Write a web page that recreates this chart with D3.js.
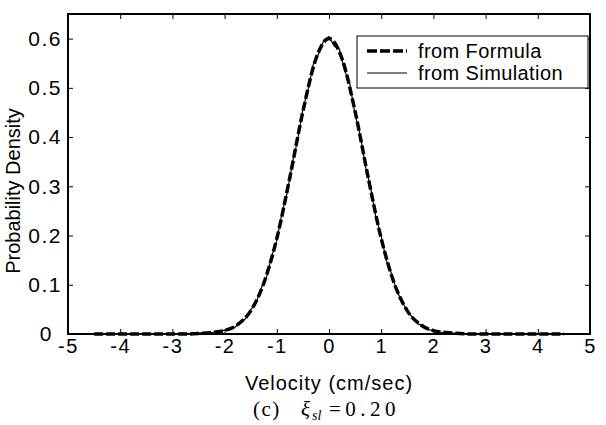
<!DOCTYPE html>
<html><head><meta charset="utf-8">
<script src="https://cdn.jsdelivr.net/npm/d3@7"></script>
<style>
body{margin:0;background:#fff;}
text{font-family:"Liberation Sans",Arial,sans-serif;fill:#000;}
</style></head>
<body><svg id="c" width="606" height="425"></svg>
<script>
// ---- data ----
const xTicks = [-5,-4,-3,-2,-1,0,1,2,3,4,5];
const yTicks = [0,0.1,0.2,0.3,0.4,0.5,0.6];
const yTickLabels = ["0","0.1","0.2","0.3","0.4","0.5","0.6"];
const formulaX = [-4.5,-4.25,-4,-3.75,-3.5,-3.25,-3,-2.75,-2.5,-2.25,-2,-1.75,-1.5,-1.25,-1,-0.75,-0.5,-0.25,0,0.25,0.5,0.75,1,1.25,1.5,1.75,2,2.25,2.5,2.75,3,3.25,3.5,3.75,4,4.25,4.5];
const formulaY = [0,0,0,0,0,0,0,0,0.001,0.003,0.007,0.019,0.047,0.103,0.194,0.318,0.452,0.559,0.600,0.559,0.452,0.318,0.194,0.103,0.047,0.019,0.007,0.003,0.001,0,0,0,0,0,0,0,0];
const simX = d3.range(91).map(i => +(-4.5 + i*0.1).toFixed(1));
const simY = [0,0.001,0,0.001,0,0,0.001,0,0,0.001,0,0.001,0,0.001,0.001,0,0.001,0.002,0.001,0.002,
  0.002,0.003,0.002,0.004,0.006,0.008,0.012,0.014,0.024,0.031,0.049,0.062,0.093,0.114,0.157,0.190,0.246,0.287,0.349,0.394,0.457,0.497,0.548,0.569,0.597,
  0.604,0.585,0.578,0.536,0.507,0.446,0.404,0.340,0.296,0.236,0.199,0.149,0.122,0.086,0.067,0.045,0.034,0.021,0.016,0.009,0.007,0.004,0.003,0.001,0.002,0.001,
  0.001,0,0.001,0,0.001,0,0,0.001,0,0.001,0,0,0.001,0,0.001,0,0,0.001,0,0];
const legendLabels = ["from Formula","from Simulation"];
const xLabel = "Velocity (cm/sec)";
const yLabel = "Probability Density";

// ---- layout ----
const L = 68, R = 590, T = 14, B = 334;
const svg = d3.select("#c");
const x = d3.scaleLinear().domain([-5,5]).range([L,R]);
const y = d3.scaleLinear().domain([0,0.65]).range([B,T]);

// frame
svg.append("rect").attr("x",L).attr("y",T).attr("width",R-L).attr("height",B-T)
  .attr("fill","none").attr("stroke","#000").attr("stroke-width",2);

// axes with inward ticks
const ax = svg.append("g").attr("transform",`translate(0,${B})`)
  .call(d3.axisBottom(x).tickValues(xTicks).tickSizeInner(-5).tickSizeOuter(0).tickPadding(5).tickFormat(d3.format("d")));
const axT = svg.append("g").attr("transform",`translate(0,${T})`)
  .call(d3.axisTop(x).tickValues(xTicks).tickSizeInner(-5).tickSizeOuter(0).tickFormat(""));
const ay = svg.append("g").attr("transform",`translate(${L},0)`)
  .call(d3.axisLeft(y).tickValues(yTicks).tickSizeInner(-5).tickSizeOuter(0).tickPadding(6).tickFormat((d,i)=>yTickLabels[i]));
const ayR = svg.append("g").attr("transform",`translate(${R},0)`)
  .call(d3.axisRight(y).tickValues(yTicks).tickSizeInner(-5).tickSizeOuter(0).tickFormat(""));
[ax,axT,ay,ayR].forEach(g=>{
  g.select(".domain").remove();
  g.selectAll("line").attr("stroke","#000").attr("stroke-width",1);
  g.selectAll("text").attr("font-size",20).attr("font-family","Liberation Sans, Arial, sans-serif")
    .attr("fill","#111").attr("letter-spacing",1.5);
});
ax.selectAll("text").text(d => d<0 ? "-"+Math.abs(d) : d);
ay.selectAll("text").attr("font-size",21).attr("dx", d => d===0 ? -9 : 0);

// lines
const line = d3.line().x(d=>x(d[0])).y(d=>y(d[1]));
svg.append("path").datum(simX.map((v,i)=>[v,simY[i]]))
  .attr("d",line).attr("fill","none").attr("stroke","#000").attr("stroke-width",1.2);
svg.append("path").datum(formulaX.map((v,i)=>[v,formulaY[i]]))
  .attr("d",line.curve(d3.curveMonotoneX)).attr("fill","none").attr("stroke","#000")
  .attr("stroke-width",3.5).attr("stroke-dasharray","9,3");

// legend
const lg = svg.append("g");
lg.append("rect").attr("x",357).attr("y",36).attr("width",231).attr("height",52)
  .attr("fill","#fff").attr("stroke","#000").attr("stroke-width",1);
legendLabels.forEach((t,i)=>{
  const yy = 51 + i*22;
  lg.append("line").attr("x1",367).attr("x2",407).attr("y1",yy).attr("y2",yy)
    .attr("stroke","#000").attr("stroke-width", i===0?3.5:1.2)
    .attr("stroke-dasharray", i===0?"10,3":null);
  lg.append("text").attr("x",418).attr("y",yy+7).attr("font-size",20)
    .attr("letter-spacing",0.4).attr("fill","#111").text(t);
});

// axis labels
svg.append("text").attr("x",(L+R)/2).attr("y",390).attr("text-anchor","middle")
  .attr("font-size",20).attr("letter-spacing",1).attr("fill","#111").text(xLabel);
svg.append("text").attr("transform",`translate(20,191) rotate(-90)`)
  .attr("text-anchor","middle").attr("font-size",20).attr("fill","#111").text(yLabel);

// caption
const cap = svg.append("text").attr("y",416)
  .style("font-family","'Liberation Serif','Times New Roman',serif").attr("font-size",21).attr("fill","#111");
cap.append("tspan").attr("x",253).attr("letter-spacing",1.5).text("(c)");
cap.append("tspan").attr("x",301).attr("font-style","italic").text("ξ");
cap.append("tspan").attr("x",312).attr("font-style","italic").attr("font-size",14).attr("dy",4).text("sl");
cap.append("tspan").attr("x",329).attr("dy",-4).attr("letter-spacing",4.5).text("=0.20");
</script></body></html>
